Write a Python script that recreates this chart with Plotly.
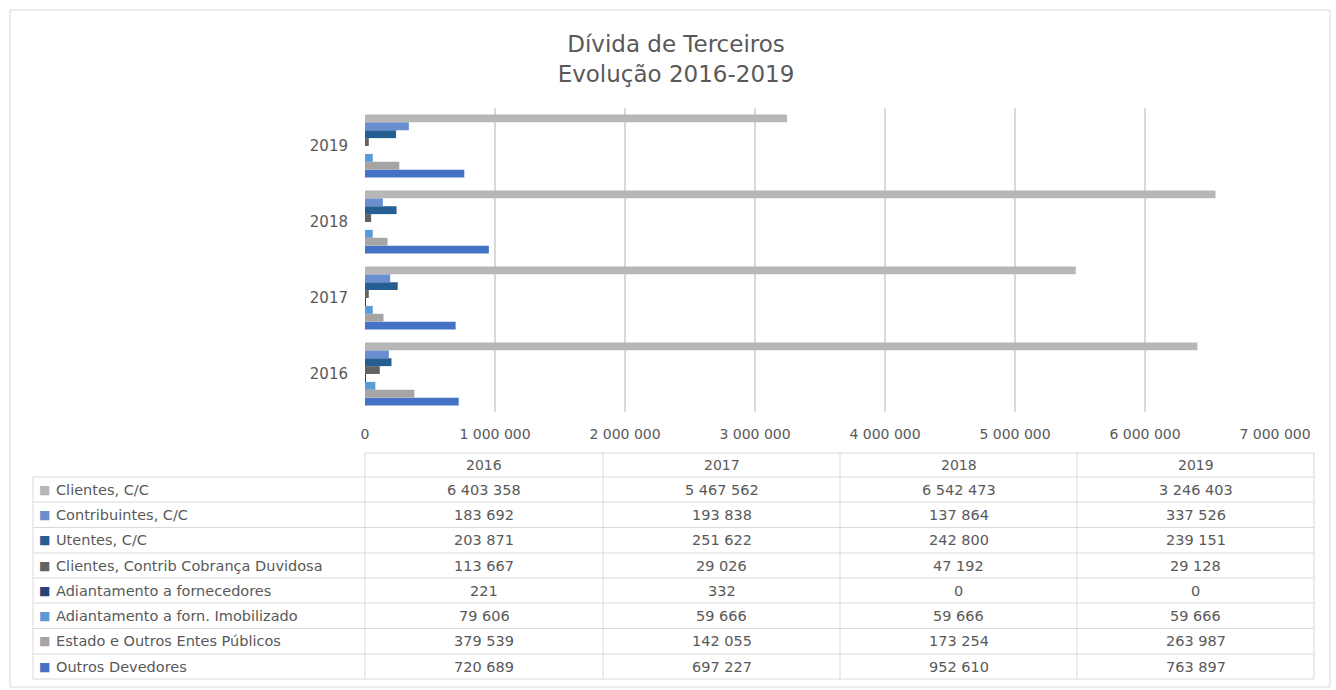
import plotly.graph_objects as go

years = ["2016", "2017", "2018", "2019"]
series_names = [
    "Clientes, C/C",
    "Contribuintes, C/C",
    "Utentes, C/C",
    "Clientes, Contrib Cobrança Duvidosa",
    "Adiantamento a fornecedores",
    "Adiantamento a forn. Imobilizado",
    "Estado e Outros Entes Públicos",
    "Outros Devedores",
]
clientes = [6403358, 5467562, 6542473, 3246403]
contribuintes = [183692, 193838, 137864, 337526]
utentes = [203871, 251622, 242800, 239151]
duvidosa = [113667, 29026, 47192, 29128]
adiant_forn = [221, 332, 0, 0]
adiant_imob = [79606, 59666, 59666, 59666]
estado = [379539, 142055, 173254, 263987]
outros = [720689, 697227, 952610, 763897]
series_values = [clientes, contribuintes, utentes, duvidosa, adiant_forn, adiant_imob, estado, outros]
colors = ["#B7B7B7", "#6A8FD0", "#255E91", "#636363", "#264478", "#5B9BD5", "#A5A5A5", "#4472C4"]
x_ticks = [0, 1000000, 2000000, 3000000, 4000000, 5000000, 6000000, 7000000]

FONT = "DejaVu Sans"
TXT = "#595959"

W, H = 1336, 690
L, R, T, B = 365, 1275, 108, 412


def px(x):
    return (x - L) / (R - L)


def py(y):
    return (B - y) / (B - T)


def fmt(v):
    return f"{v:,}".replace(",", " ")


fig = go.Figure()
# plotly places grouped horizontal bars bottom-up, so add in reverse order
for name, vals, col in reversed(list(zip(series_names, series_values, colors))):
    fig.add_trace(go.Bar(
        y=years, x=vals, name=name, orientation="h",
        marker=dict(color=col, line=dict(width=0)),
        showlegend=False,
    ))

shapes = []
annotations = []
# outer border
shapes.append(dict(type="rect", xref="paper", yref="paper",
                   x0=px(10), x1=px(1330), y0=py(10), y1=py(687),
                   line=dict(color="#D9D9D9", width=1), fillcolor="rgba(0,0,0,0)", layer="below"))

# table geometry
col_x = [365, 603, 840, 1077, 1314]
left_x = 33
header_top = 453
row_edges = [477, 502, 527.5, 553, 578, 603, 628.5, 654, 679]
gc = "#D9D9D9"
shapes.append(dict(type="line", xref="paper", yref="paper", x0=px(col_x[0]), x1=px(col_x[-1]),
                   y0=py(header_top), y1=py(header_top), line=dict(color=gc, width=1)))
for ry in row_edges:
    shapes.append(dict(type="line", xref="paper", yref="paper", x0=px(left_x), x1=px(col_x[-1]),
                       y0=py(ry), y1=py(ry), line=dict(color=gc, width=1)))
shapes.append(dict(type="line", xref="paper", yref="paper", x0=px(left_x), x1=px(left_x),
                   y0=py(row_edges[0]), y1=py(row_edges[-1]), line=dict(color=gc, width=1)))
for cx in col_x:
    shapes.append(dict(type="line", xref="paper", yref="paper", x0=px(cx), x1=px(cx),
                       y0=py(header_top), y1=py(row_edges[-1]), line=dict(color=gc, width=1)))

# header
for i, yr in enumerate(years):
    annotations.append(dict(xref="paper", yref="paper", x=px((col_x[i] + col_x[i + 1]) / 2),
                            y=py((header_top + row_edges[0]) / 2), text=yr, showarrow=False,
                            xanchor="center", yanchor="middle",
                            font=dict(family=FONT, size=14, color=TXT)))
# rows
for r, (name, vals, col) in enumerate(zip(series_names, series_values, colors)):
    yc = py((row_edges[r] + row_edges[r + 1]) / 2)
    annotations.append(dict(xref="paper", yref="paper", x=px(37), y=yc, text="■",
                            showarrow=False, xanchor="left", yanchor="middle",
                            font=dict(family="DejaVu Sans", size=12, color=col)))
    annotations.append(dict(xref="paper", yref="paper", x=px(54), y=yc, text=name,
                            showarrow=False, xanchor="left", yanchor="middle",
                            font=dict(family=FONT, size=14.5, color=TXT)))
    for i, v in enumerate(vals):
        annotations.append(dict(xref="paper", yref="paper", x=px((col_x[i] + col_x[i + 1]) / 2),
                                y=yc, text=fmt(v), showarrow=False,
                                xanchor="center", yanchor="middle",
                                font=dict(family=FONT, size=14.5, color=TXT)))

fig.update_layout(
    width=W, height=H,
    margin=dict(l=L, r=W - R, t=T, b=H - B, pad=0),
    paper_bgcolor="white", plot_bgcolor="white",
    barmode="group", bargap=0.17, bargroupgap=0,
    separators=", ",
    title=dict(text="Dívida de Terceiros<br>Evolução 2016-2019", x=676 / W, xanchor="center",
               y=1 - 52 / H, yanchor="middle",
               font=dict(family=FONT, size=23, color=TXT)),
    xaxis=dict(range=[0, 7000000], tickvals=x_ticks, tickformat=",d",
               showgrid=True, gridcolor="#D9D9D9", gridwidth=1.5, zeroline=False,
               showline=False, ticks="", ticklabelstandoff=12,
               tickfont=dict(family=FONT, size=14, color=TXT)),
    yaxis=dict(type="category", categoryorder="array", categoryarray=years,
               showgrid=False, zeroline=False, showline=False, ticks="",
               ticklabelstandoff=16,
               tickfont=dict(family=FONT, size=15, color=TXT)),
    shapes=shapes, annotations=annotations,
    font=dict(family=FONT, color=TXT),
)

fig.write_html("out.html", config={"displayModeBar": False},
               post_script="document.body.style.margin='0';")
